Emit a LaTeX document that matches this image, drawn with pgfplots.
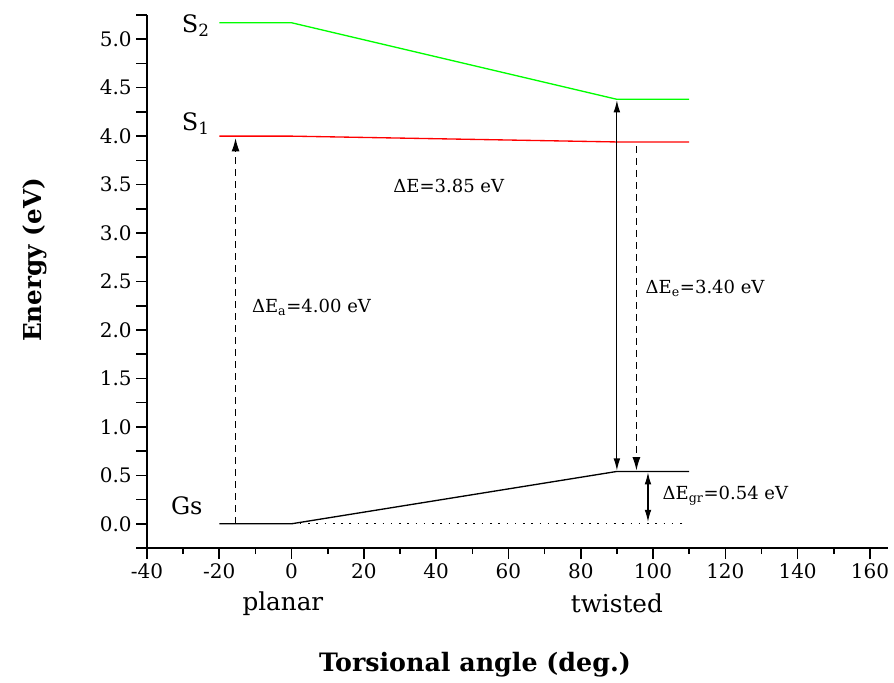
\documentclass[border=0pt]{standalone}
\usepackage{fontspec}
\setmainfont{DejaVu Serif}
\usepackage{pgfplots}
\pgfplotsset{compat=1.18}
\usetikzlibrary{arrows.meta}

\begin{document}
\begin{tikzpicture}
% fixed page frame (1px = 0.75pt), axis box lower-left at origin
\path[use as bounding box] (-110.25pt,-101.25pt) rectangle (560.25pt,411pt);
\begin{axis}[
  scale only axis,
  width=555.75pt, height=399.75pt,
  xmin=-40, xmax=165, ymin=-0.25, ymax=5.25,
  axis x line=bottom, axis y line=left,
  axis line style={line width=1.4pt, -},
  xtick={-40,-20,...,160},
  minor x tick num=1,
  ytick={0,0.5,...,5.0},
  extra y ticks={-0.25,0.25,0.75,1.25,1.75,2.25,2.75,3.25,3.75,4.25,4.75,5.25},
  extra y tick labels={},
  tick align=outside,
  major tick length=8pt, minor tick length=4.5pt,
  every tick/.style={black, line width=1.2pt},
  yticklabel style={/pgf/number format/.cd, fixed, fixed zerofill, precision=1},
  xticklabel style={/pgf/number format/.cd, fixed},
  /pgf/number format/assume math mode=true,
  tick label style={font=\fontsize{15}{17}\selectfont},
  clip=false,
]
% ground state
\addplot[black, line width=1pt] coordinates {(-20,0) (0,0) (90,0.54) (110,0.54)};
\addplot[black, line width=1pt, dash pattern=on 1.2pt off 5pt] coordinates {(0,0) (108,0)};
% S1
\addplot[red, line width=1pt] coordinates {(-20,4.00) (0,4.00) (90,3.94) (110,3.94)};
% S2
\addplot[green, line width=1pt] coordinates {(-20,5.17) (0,5.17) (90,4.38) (110,4.38)};

% vertical transitions
\addplot[black, line width=0.9pt, dash pattern=on 5pt off 4pt, -{Latex[length=10pt,width=6pt]}]
  coordinates {(-15.5,0) (-15.5,3.98)};
\addplot[black, line width=0.8pt, {Latex[length=9pt,width=5pt]}-{Latex[length=9pt,width=5pt]}]
  coordinates {(90,0.55) (90,4.37)};
\addplot[black, line width=0.9pt, dash pattern=on 5pt off 4pt, -{Latex[length=10pt,width=6pt]}]
  coordinates {(95.4,3.90) (95.4,0.55)};
\addplot[black, line width=0.8pt, {Latex[length=9pt,width=5pt]}-{Latex[length=9pt,width=5pt]}]
  coordinates {(98.6,0.53) (98.6,0.02)};

% state labels
\node[font=\fontsize{18}{20}\selectfont] at (axis cs:-26.5,5.14) {S\textsubscript{2}};
\node[font=\fontsize{18}{20}\selectfont] at (axis cs:-26.5,4.13) {S\textsubscript{1}};
\node[font=\fontsize{18}{20}\selectfont] at (axis cs:-29,0.19) {Gs};

% energy gaps
\node[anchor=west, font=\fontsize{13.5}{15}\selectfont, inner sep=0pt] at (axis cs:28.1,3.49) {ΔE=3.85 eV};
\node[anchor=west, font=\fontsize{13.5}{15}\selectfont, inner sep=0pt] at (axis cs:-11,2.23) {ΔE\textsubscript{a}=4.00 eV};
\node[anchor=west, font=\fontsize{13.5}{15}\selectfont, inner sep=0pt] at (axis cs:97.9,2.43) {ΔE\textsubscript{e}=3.40 eV};
\node[anchor=west, font=\fontsize{13.5}{15}\selectfont, inner sep=0pt] at (axis cs:102.6,0.29) {ΔE\textsubscript{gr}=0.54 eV};

% conformation labels
\node[font=\fontsize{18.5}{20}\selectfont] at (axis cs:-2.4,-0.82) {planar};
\node[font=\fontsize{18.5}{20}\selectfont] at (axis cs:90,-0.82) {twisted};
\end{axis}
% axis titles
\node[rotate=90, font=\bfseries\fontsize{18.5}{20}\selectfont] at (-84pt,216pt) {Energy (eV)};
\node[font=\bfseries\fontsize{19}{21}\selectfont] at (246pt,-87.75pt) {Torsional angle (deg.)};
\end{tikzpicture}
\end{document}
